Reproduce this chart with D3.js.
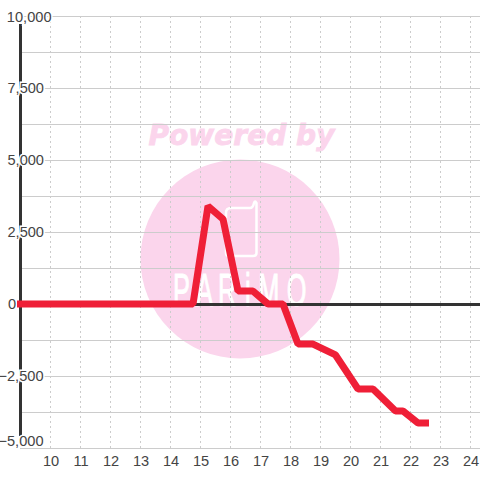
<!DOCTYPE html>
<html><head><meta charset="utf-8">
<script src="https://cdn.jsdelivr.net/npm/d3@7/dist/d3.min.js"></script>
<style>html,body{margin:0;padding:0;background:#fff}svg{display:block}text{font-family:"Liberation Sans",Arial,sans-serif}</style>
</head><body><svg id="c" width="480" height="480"></svg>
<script>
const xTicks=[10,11,12,13,14,15,16,17,18,19,20,21,22,23,24];
const yTicks=[10000,7500,5000,2500,0,-2500,-5000];
const yMinor=[8750,6250,3750,1250,-1250,-3750];
const hours=[9,14.75,15.25,15.75,16.25,16.75,17.25,17.75,18.25,18.75,19.5,20.25,20.75,21.5,21.75,22.25,22.5];
const values=[0,0,3400,2950,450,450,0,0,-1390,-1390,-1770,-2950,-2950,-3715,-3715,-4130,-4130];
const svg=d3.select("#c");
const x=d3.scaleLinear().domain([10,24]).range([50.5,470.5]);
const y=d3.scaleLinear().domain([-5000,10000]).range([448,16]);
const ink="#444444",grid="#cccccc",pink="#fbd5ec";

// watermark
const wm=svg.append("g");
wm.append("text").attr("x",241.5).attr("y",145).attr("text-anchor","middle").attr("fill",pink).attr("stroke",pink).attr("stroke-width",.8)
  .style("font-family","'DejaVu Sans'").style("font-weight","bold").style("font-style","italic").style("font-size","28px").attr("textLength",186).attr("lengthAdjust","spacingAndGlyphs").text("Powered by");
wm.append("circle").attr("cx",240).attr("cy",259).attr("r",99.5).attr("fill",pink);
wm.append("path").attr("d","M226 213 Q226 208 231 208 L250 208 Q253 208 254 203 Q255 200 256.5 203 L256.5 253 Q256.5 256 253 256 L229 256 Q226 256 226 253 Z")
  .attr("fill","none").attr("stroke","#fff").attr("stroke-width",2.5);
wm.append("text").attr("transform","translate(173,306) scale(.55,1)").attr("fill","#fff").attr("stroke","#fff").attr("stroke-width",1)
  .attr("x",[0,42,82,131,155,207].join(" "))
  .style("font-size","46px").text("PARiMO");

// grid
svg.append("g").selectAll("line").data(xTicks).join("line")
  .attr("x1",d=>x(d)).attr("x2",d=>x(d)).attr("y1",y(10000)).attr("y2",y(-5000))
  .attr("stroke",grid).attr("stroke-dasharray","2 3");
svg.append("g").selectAll("line").data(yMinor).join("line")
  .attr("x1",20).attr("x2",480).attr("y1",d=>y(d)+.5).attr("y2",d=>y(d)+.5).attr("stroke",grid);
svg.append("g").selectAll("line").data(yTicks.filter(d=>d!==0)).join("line")
  .attr("x1",20).attr("x2",480).attr("y1",d=>y(d)+.5).attr("y2",d=>y(d)+.5).attr("stroke",grid);

// axis lines
svg.append("line").attr("x1",20.5).attr("x2",20.5).attr("y1",24).attr("y2",436).attr("stroke","#333").attr("stroke-width",3);
svg.append("line").attr("x1",20).attr("x2",480).attr("y1",y(0)+.5).attr("y2",y(0)+.5).attr("stroke","#333").attr("stroke-width",3);

// y labels
svg.append("g").selectAll("text").data(yTicks).join("text")
  .attr("x",d=>d===10000?51.5:(d===0?16:(d<0?43.5:44))).attr("y",d=>d===-5000?y(d)-2:(d===10000?y(d)+6:y(d)+5)).attr("text-anchor","end")
  .attr("fill",ink).attr("stroke","#fff").attr("stroke-width",3).attr("paint-order","stroke")
  .style("font-size","14.6px").text(d=>d3.format(",")(d));

// x labels
svg.append("g").selectAll("text").data(xTicks).join("text")
  .attr("x",d=>x(d)+.5).attr("y",466).attr("text-anchor","middle").attr("fill",ink)
  .style("font-size","14.6px").text(d=>d);

// series
const line=d3.line().x((d,i)=>x(hours[i])).y(d=>y(d)).curve(d3.curveLinear);
svg.append("path").attr("d",line(values)).attr("fill","none").attr("stroke","#ef1f37").attr("stroke-width",7)
  .attr("stroke-linecap","square").attr("stroke-linejoin","bevel");
</script></body></html>
